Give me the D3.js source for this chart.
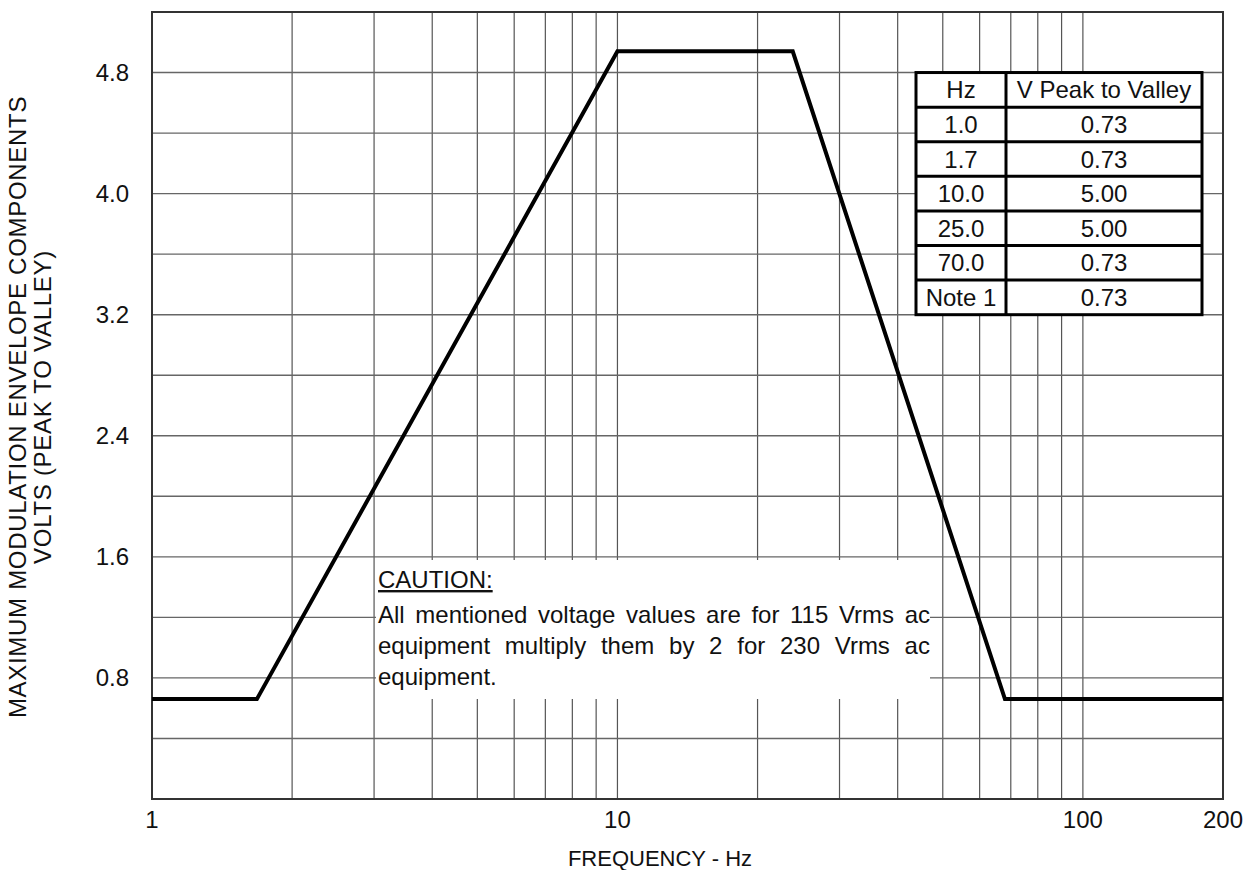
<!DOCTYPE html>
<html>
<head>
<meta charset="utf-8">
<script src="https://cdn.jsdelivr.net/npm/d3@7"></script>
<style>
  html, body { margin: 0; padding: 0; background: #fff; }
  svg text { font-family: Arial, "Liberation Sans", sans-serif; fill: #111; }
</style>
</head>
<body>
<svg id="chart" width="1245" height="870"></svg>
<script>
// ---- data ----
const freqHz = [1, 1.68, 10, 23.8, 68, 200];
const voltsPlotted = [0.66, 0.66, 4.94, 4.94, 0.66, 0.66];
const xTickLabels = [1, 10, 100, 200];
const yTickLabels = [0.8, 1.6, 2.4, 3.2, 4.0, 4.8];
const xGrid = [2, 3, 4, 5, 6, 7, 8, 9, 10, 20, 30, 40, 50, 60, 70, 80, 90, 100];
const yGrid = [0.4, 0.8, 1.2, 1.6, 2.0, 2.4, 2.8, 3.2, 3.6, 4.0, 4.4, 4.8];
const tableHeader = ["Hz", "V Peak to Valley"];
const tableHz = ["1.0", "1.7", "10.0", "25.0", "70.0", "Note 1"];
const tableV = ["0.73", "0.73", "5.00", "5.00", "0.73", "0.73"];
const cautionTitle = "CAUTION:";
const cautionLines = [
  "All mentioned voltage values are for 115 Vrms ac",
  "equipment multiply them by 2 for 230 Vrms ac",
  "equipment."
];
const xTitle = "FREQUENCY - Hz";
const yTitleLines = ["MAXIMUM MODULATION ENVELOPE COMPONENTS", "VOLTS (PEAK TO VALLEY)"];

// ---- layout ----
const L = 152, R = 1223, T = 12, B = 799;
const svg = d3.select("#chart");
const x = d3.scaleLog().domain([1, 200]).range([L, R]);
const y = d3.scaleLinear().domain([0, 5.2]).range([B, T]);
const FS = 24;

// grid
svg.append("g").selectAll("line").data(xGrid).join("line")
  .attr("x1", d => x(d)).attr("x2", d => x(d))
  .attr("y1", T).attr("y2", B)
  .attr("stroke", "#555").attr("stroke-width", 1.2);
svg.append("g").selectAll("line").data(yGrid).join("line")
  .attr("x1", L).attr("x2", R)
  .attr("y1", d => y(d)).attr("y2", d => y(d))
  .attr("stroke", "#666").attr("stroke-width", 1.4);

// frame
svg.append("rect").attr("x", L).attr("y", T).attr("width", R - L).attr("height", B - T)
  .attr("fill", "none").attr("stroke", "#333").attr("stroke-width", 2);

// data line
const line = d3.line().x((d, i) => x(freqHz[i])).y(d => y(d));
svg.append("path").datum(voltsPlotted)
  .attr("d", line).attr("fill", "none")
  .attr("stroke", "#000").attr("stroke-width", 4).attr("stroke-linejoin", "miter");

// caution box
const cb = svg.append("g");
const cbX = 378, cbW = 552;
cb.append("rect").attr("x", cbX - 2).attr("y", 560).attr("width", cbW + 2).attr("height", 139).attr("fill", "#fff");
cb.append("text").attr("x", cbX).attr("y", 588).attr("font-size", FS)
  .style("text-decoration", "underline").text(cautionTitle);
cautionLines.forEach((t, i) => {
  const tx = cb.append("text").attr("x", cbX).attr("y", 623 + i * 31).attr("font-size", FS).text(t);
  if (i < cautionLines.length - 1) {
    const nat = tx.node().getComputedTextLength();
    const gaps = t.split(" ").length - 1;
    tx.attr("word-spacing", ((cbW - nat) / gaps).toFixed(2));
  }
});

// table
const tL = 916, tM = 1006, tR = 1202, tT = y(4.8), tB = y(3.2);
const rows = [tableHeader].concat(tableHz.map((h, i) => [h, tableV[i]]));
const rh = (tB - tT) / rows.length;
const tg = svg.append("g");
tg.append("rect").attr("x", tL).attr("y", tT).attr("width", tR - tL).attr("height", tB - tT)
  .attr("fill", "#fff").attr("stroke", "#000").attr("stroke-width", 3);
rows.forEach((r, i) => {
  if (i > 0) tg.append("line").attr("x1", tL).attr("x2", tR)
    .attr("y1", tT + i * rh).attr("y2", tT + i * rh).attr("stroke", "#000").attr("stroke-width", 3);
  tg.append("text").attr("x", (tL + tM) / 2).attr("y", tT + i * rh + rh / 2 + 8.5)
    .attr("text-anchor", "middle").attr("font-size", FS).text(r[0]);
  tg.append("text").attr("x", (tM + tR) / 2).attr("y", tT + i * rh + rh / 2 + 8.5)
    .attr("text-anchor", "middle").attr("font-size", FS).text(r[1]);
});
tg.append("line").attr("x1", tM).attr("x2", tM).attr("y1", tT).attr("y2", tB)
  .attr("stroke", "#000").attr("stroke-width", 3);

// axes labels
svg.append("g").selectAll("text").data(xTickLabels).join("text")
  .attr("x", d => x(d)).attr("y", 828).attr("text-anchor", "middle")
  .attr("font-size", FS).text(d => d);
svg.append("g").selectAll("text").data(yTickLabels).join("text")
  .attr("x", 129).attr("y", d => y(d) + 8.5).attr("text-anchor", "end")
  .attr("font-size", FS).text(d => d.toFixed(1));

svg.append("text").attr("x", 660).attr("y", 866).attr("text-anchor", "middle")
  .attr("font-size", 22).text(xTitle);

yTitleLines.forEach((t, i) => {
  svg.append("text")
    .attr("transform", `translate(${26 + i * 25},407) rotate(-90)`)
    .attr("text-anchor", "middle").attr("font-size", FS)
    .attr("letter-spacing", 0.7).text(t);
});
</script>
</body>
</html>
